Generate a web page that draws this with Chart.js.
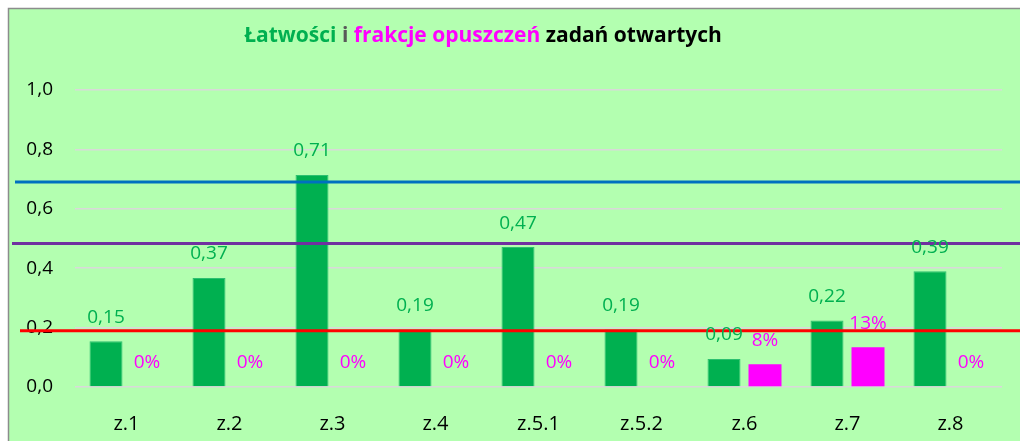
<!DOCTYPE html>
<html>
<head>
<meta charset="utf-8">
<script src="https://cdn.jsdelivr.net/npm/chart.js@4"></script>
<style>
  html, body { margin: 0; padding: 0; background: #fff; }
  #wrap { width: 1020px; height: 441px; position: relative; }
</style>
</head>
<body>
<div id="wrap"><canvas id="c" width="1020" height="441"></canvas></div>
<script>
// data
const categories = ['z.1', 'z.2', 'z.3', 'z.4', 'z.5.1', 'z.5.2', 'z.6', 'z.7', 'z.8'];
const latwosc = [0.154, 0.367, 0.714, 0.194, 0.471, 0.194, 0.094, 0.224, 0.39];
const opuszczenia = [0, 0, 0, 0, 0, 0, 0.077, 0.134, 0];
const yTicks = [0, 0.2, 0.4, 0.6, 0.8, 1.0];
// reference lines: blue, purple, red
const refLines = [0.69, 0.483, 0.189];
const refColors = ['#0070c0', '#7030a0', '#ff0000'];
const refStartX = [15, 12, 20];

const FONT = 'Open Sans';
const GREEN = '#00b050';
const PINK = '#ff00ff';

const bgPlugin = {
  id: 'bg',
  beforeDraw(chart) {
    const ctx = chart.ctx;
    ctx.save();
    ctx.fillStyle = '#ffffff';
    ctx.fillRect(0, 0, chart.width, chart.height);
    ctx.fillStyle = '#b3ffb0';
    ctx.fillRect(8, 8, chart.width - 8, chart.height - 8);
    ctx.strokeStyle = '#8c8c8c';
    ctx.lineWidth = 1.5;
    ctx.beginPath();
    ctx.moveTo(8.5, chart.height);
    ctx.lineTo(8.5, 8.5);
    ctx.lineTo(chart.width, 8.5);
    ctx.stroke();
    ctx.restore();
  }
};

const titlePlugin = {
  id: 'multiTitle',
  afterDraw(chart) {
    const ctx = chart.ctx;
    const parts = [
      ['Łatwości', GREEN],
      [' i ', '#595959'],
      ['frakcje opuszczeń', PINK],
      [' zadań otwartych', '#000000']
    ];
    ctx.save();
    ctx.font = 'bold 21px "' + FONT + '"';
    ctx.textBaseline = 'middle';
    let total = 0;
    parts.forEach(p => { total += ctx.measureText(p[0]).width; });
    let x = 483 - total / 2;
    parts.forEach(p => {
      ctx.fillStyle = p[1];
      ctx.fillText(p[0], x, 36);
      x += ctx.measureText(p[0]).width;
    });
    ctx.restore();
  }
};

const linesPlugin = {
  id: 'refLines',
  afterDatasetsDraw(chart) {
    const ctx = chart.ctx;
    const y = chart.scales.y;
    ctx.save();
    ctx.lineWidth = 3;
    refLines.forEach((v, i) => {
      const py = y.getPixelForValue(v);
      ctx.strokeStyle = refColors[i];
      ctx.beginPath();
      ctx.moveTo(refStartX[i], py);
      ctx.lineTo(chart.width, py);
      ctx.stroke();
    });
    ctx.restore();
  }
};

const labelPlugin = {
  id: 'barLabels',
  afterDatasetsDraw(chart) {
    const ctx = chart.ctx;
    ctx.save();
    ctx.font = '19px "' + FONT + '"';
    ctx.textAlign = 'center';
    ctx.textBaseline = 'middle';
    chart.data.datasets.forEach((ds, di) => {
      const meta = chart.getDatasetMeta(di);
      meta.data.forEach((bar, i) => {
        const v = ds.data[i];
        const txt = di === 0 ? v.toFixed(2).replace('.', ',') : Math.round(v * 100) + '%';
        ctx.fillStyle = di === 0 ? GREEN : PINK;
        ctx.fillText(txt, bar.x, bar.y - 24);
      });
    });
    ctx.restore();
  }
};

new Chart(document.getElementById('c'), {
  type: 'bar',
  data: {
    labels: categories,
    datasets: [
      { label: 'Łatwość', data: latwosc, backgroundColor: GREEN, borderColor: '#2dc070', borderWidth: 1,
        categoryPercentage: 0.796, barPercentage: 0.805 },
      { label: 'Frakcja opuszczeń', data: opuszczenia, backgroundColor: PINK, borderWidth: 0,
        categoryPercentage: 0.796, barPercentage: 0.805 }
    ]
  },
  options: {
    responsive: false,
    animation: false,
    layout: { padding: { left: 0, right: 18, top: 90, bottom: 0 } },
    plugins: { legend: { display: false }, title: { display: false }, tooltip: { enabled: false } },
    scales: {
      x: {
        grid: { display: false },
        border: { display: false },
        ticks: { color: '#000', font: { family: FONT, size: 20 }, padding: 17 },
        afterFit(s) { s.height = 54; }
      },
      y: {
        min: 0, max: 1.0,
        afterBuildTicks(s) { s.ticks = yTicks.map(v => ({ value: v })); },
        grid: { color: '#d9d9d9', lineWidth: 1.5, drawTicks: false },
        border: { display: false },
        ticks: {
          color: '#000', font: { family: FONT, size: 19 }, padding: 22,
          callback: v => v.toFixed(1).replace('.', ',')
        },
        afterFit(s) { s.width = 75; }
      }
    }
  },
  plugins: [bgPlugin, linesPlugin, labelPlugin, titlePlugin]
});
</script>
</body>
</html>
